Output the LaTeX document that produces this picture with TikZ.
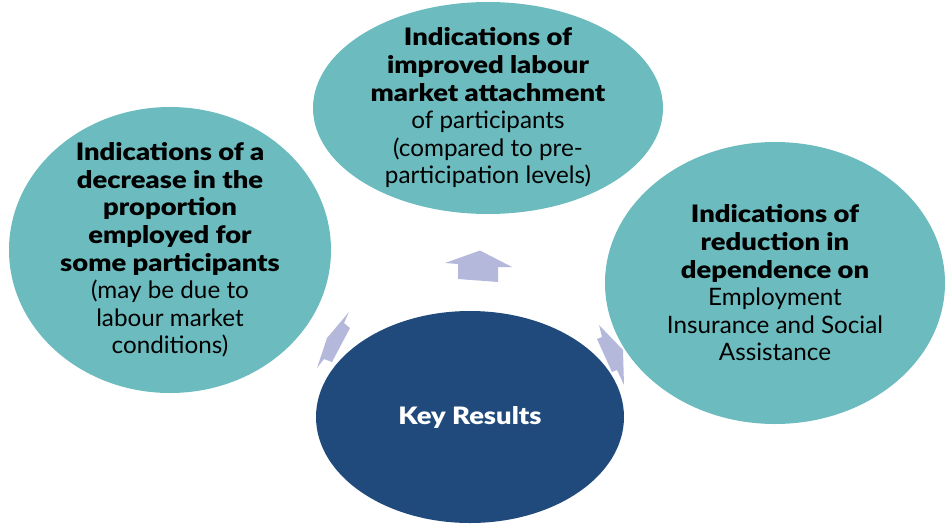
\documentclass[tikz,border=0pt]{standalone}
\usepackage{fontspec}
\setmainfont{Lato}[FakeStretch=1.01, BoldFont={Lato Black}, BoldFeatures={FakeStretch=1.14}]
\usetikzlibrary{shapes.geometric}
\definecolor{tealc}{HTML}{6CBCBF}
\definecolor{darkc}{HTML}{214A7C}
\definecolor{arrowc}{HTML}{B4B8DA}
\tikzset{
  bubble/.style={ellipse, fill=tealc, draw=none, inner sep=0pt},
  keybubble/.style={ellipse, fill=darkc, draw=none, inner sep=0pt},
  txt/.style={align=center, inner sep=0pt, font=\fontsize{24}{27.6}\selectfont, text=black},
  arr/.style={fill=arrowc, draw=none}
}
\begin{document}
\begin{tikzpicture}[x=1pt,y=-1pt]
\useasboundingbox (0,0) rectangle (946,523);
% ellipses
\node[bubble, minimum width=350, minimum height=212] (top) at (488,108) {};
\node[bubble, minimum width=322, minimum height=286] (left) at (170,250) {};
\node[bubble, minimum width=340, minimum height=282] (right) at (775,283) {};
\node[keybubble, minimum width=308, minimum height=212] (key) at (470,417) {};
% texts
\node[txt] (toptext) at (top.center) {\textbf{Indications of}\\\textbf{improved labour}\\\textbf{market attachment}\\of participants\\(compared to pre-\\participation levels)};
\node[txt] (lefttext) at (left.center) {\textbf{Indications of a}\\\textbf{decrease in the}\\\textbf{proportion}\\\textbf{employed for}\\\textbf{some participants}\\(may be due to\\labour market\\conditions)};
\node[txt] (righttext) at (right.center) {\textbf{Indications of}\\\textbf{reduction in}\\\textbf{dependence on}\\Employment\\Insurance and Social\\Assistance};
\node[txt, text=white] (keytext) at (key.center) {\textbf{Key Results}};
% arrows
\fill[arr] (480,250.5) -- (512,267) -- (498,267) -- (498,282) -- (458,279) -- (458,264) -- (445,263) -- cycle;
\fill[arr] (349,312) -- (344,323) -- (350,328) -- (332,362) -- (324,359) -- (317,368) -- (327,338) -- cycle;
\fill[arr] (599,325) -- (623,350) -- (624,385) -- (617,370) -- (612,372) -- (597,339) -- (602,337) -- cycle;
\end{tikzpicture}
\end{document}
